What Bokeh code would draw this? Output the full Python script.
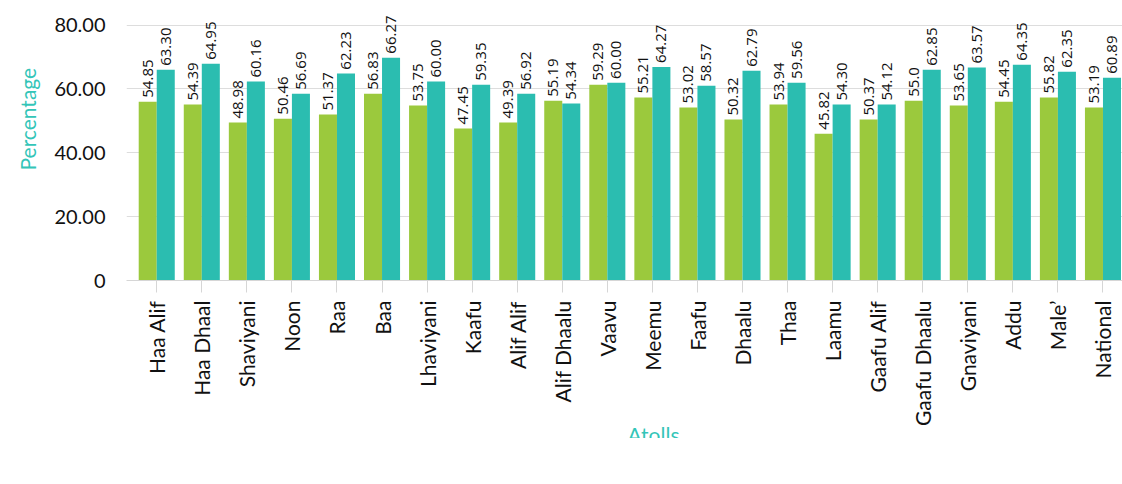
from bokeh.plotting import figure
from bokeh.models import (ColumnDataSource, Range1d, FixedTicker, LabelSet, Legend,
                          LegendItem, Title)
from bokeh.core.properties import value
from bokeh.embed import file_html
from bokeh.resources import INLINE

atolls = ["Haa Alif", "Haa Dhaal", "Shaviyani", "Noon", "Raa", "Baa", "Lhaviyani",
          "Kaafu", "Alif Alif", "Alif Dhaalu", "Vaavu", "Meemu", "Faafu", "Dhaalu",
          "Thaa", "Laamu", "Gaafu Alif", "Gaafu Dhaalu", "Gnaviyani", "Addu",
          "Male\u2019", "National"]

# bar heights as drawn in the picture
male_values = [56.0, 55.1, 49.5, 50.7, 52.0, 58.5, 54.8, 47.6, 49.5, 56.3, 61.3,
               57.3, 54.2, 50.4, 55.1, 46.0, 50.4, 56.3, 54.8, 56.0, 57.3, 54.2]
female_values = [66.0, 67.9, 62.3, 58.5, 64.8, 69.8, 62.3, 61.3, 58.5, 55.4, 61.9,
                 66.9, 61.0, 65.7, 61.9, 55.1, 55.1, 66.0, 66.7, 67.6, 65.4, 63.5]

# printed data labels
male_labels = ["54.85", "54.39", "48.98", "50.46", "51.37", "56.83", "53.75", "47.45",
               "49.39", "55.19", "59.29", "55.21", "53.02", "50.32", "53.94", "45.82",
               "50.37", "55.0", "53.65", "54.45", "55.82", "53.19"]
female_labels = ["63.30", "64.95", "60.16", "56.69", "62.23", "66.27", "60.00", "59.35",
                 "56.92", "54.34", "60.00", "64.27", "58.57", "62.79", "59.56", "54.30",
                 "54.12", "62.85", "63.57", "64.35", "62.35", "60.89"]

y_ticks = [0, 20, 40, 60, 80]
y_tick_labels = ["0", "20.00", "40.00", "60.00", "80.00"]

GREEN = "#9BC93D"
TEAL = "#2BBDB0"
TITLE_TEAL = "#33C5B8"

idx = list(range(len(atolls)))
src_m = ColumnDataSource(dict(x=[i - 0.2 for i in idx], y=male_values, t=male_labels))
src_f = ColumnDataSource(dict(x=[i + 0.2 for i in idx], y=female_values, t=female_labels))

p = figure(frame_width=999, frame_height=280, output_backend="svg", toolbar_location=None,
           x_range=Range1d(-0.671, len(atolls) - 0.5), y_range=Range1d(0, 87.7),
           min_border_top=0, min_border_right=0, min_border_bottom=0, min_border_left=123)
p.outline_line_color = None
p.background_fill_color = "white"
p.border_fill_color = "white"

rm = p.vbar(x="x", top="y", width=0.4, source=src_m, fill_color=GREEN, line_color=None)
rf = p.vbar(x="x", top="y", width=0.4, source=src_f, fill_color=TEAL, line_color=None)

for src in (src_m, src_f):
    p.add_layout(LabelSet(x="x", y="y", text="t", source=src, angle=1.5708,
                          text_align="left", text_baseline="middle", y_offset=4,
                          text_font=value("Open Sans"), text_font_size=value("15px"),
                          text_color=value("#111111")))

# axes
p.xaxis.ticker = FixedTicker(ticks=idx)
p.xaxis.major_label_overrides = {i: a for i, a in enumerate(atolls)}
p.xaxis.major_label_orientation = 1.5708
p.xaxis.major_label_text_font = "Lato"
p.xaxis.major_label_text_font_size = "21px"
p.xaxis.major_label_text_color = "#111111"
p.xaxis.major_label_standoff = 8
p.xaxis.axis_line_color = "#D6D6D6"
p.xaxis.major_tick_line_color = "#D6D6D6"
p.xaxis.major_tick_out = 12
p.xaxis.major_tick_in = 0
p.xaxis.minor_tick_line_color = None

p.yaxis.ticker = FixedTicker(ticks=y_ticks)
p.yaxis.major_label_overrides = {v: s for v, s in zip(y_ticks, y_tick_labels)}
p.yaxis.major_label_text_font = "Lato"
p.yaxis.major_label_text_font_size = "20px"
p.yaxis.major_label_text_color = "#111111"
p.yaxis.major_label_standoff = 21
p.yaxis.axis_line_color = None
p.yaxis.major_tick_line_color = None
p.yaxis.major_tick_out = 0
p.yaxis.major_tick_in = 0
p.yaxis.minor_tick_line_color = None

p.xgrid.grid_line_color = None
p.ygrid.grid_line_color = "#DDDDDD"
p.ygrid.grid_line_width = 1

p.add_layout(Title(text="Percentage", align="left", offset=110, text_color=TITLE_TEAL,
                   text_font="Lato", text_font_size="21px", text_font_style="normal",
                   standoff=24), "left")
p.add_layout(Title(text="Atolls", align="left", offset=501, text_color=TITLE_TEAL,
                   text_font="Lato", text_font_size="21px", text_font_style="normal",
                   standoff=-17), "below")

legend = Legend(items=[LegendItem(label="Male", renderers=[rm]),
                       LegendItem(label="Female", renderers=[rf])],
                orientation="horizontal", location=(0, -178),
                border_line_color=None, background_fill_alpha=0,
                label_text_font="Lato", label_text_font_size="21px",
                label_text_color="#111111", glyph_width=21, glyph_height=18,
                label_height=18, label_standoff=16, spacing=16, padding=0, margin=0)
p.add_layout(legend)

open("out.html", "w").write(file_html(p, INLINE))
